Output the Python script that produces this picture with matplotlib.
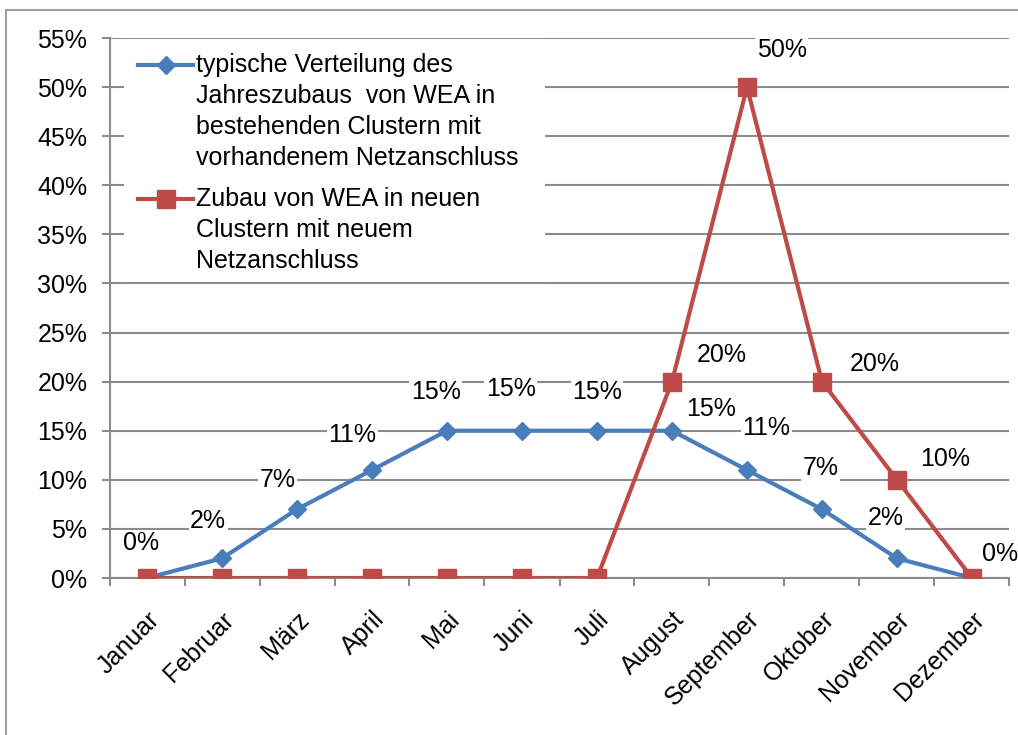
import matplotlib.pyplot as plt
from matplotlib.lines import Line2D
from matplotlib.patches import Rectangle
from matplotlib.ticker import FuncFormatter, MultipleLocator

plt.rcParams['font.family'] = ['Liberation Sans', 'DejaVu Sans']

months = ['Januar', 'Februar', 'März', 'April', 'Mai', 'Juni', 'Juli',
          'August', 'September', 'Oktober', 'November', 'Dezember']
bestand = [0, 2, 7, 11, 15, 15, 15, 15, 11, 7, 2, 0]
neu = [0, 0, 0, 0, 0, 0, 0, 20, 50, 20, 10, 0]

label_bestand = ['typische Verteilung des', 'Jahreszubaus  von WEA in',
                 'bestehenden Clustern mit', 'vorhandenem Netzanschluss']
label_neu = ['Zubau von WEA in neuen', 'Clustern mit neuem', 'Netzanschluss']

# label offsets (points) for data labels, as drawn in the original
off_bestand = [(-4, 25), (-10, 27), (-14, 21), (-14, 25), (-8, 28), (-8, 30),
               (0, 28), (28, 16), (14, 30), (-1, 30), (-8, 29), None]
off_neu = [None] * 7 + [(36, 19), (25, 27), (38, 13), (35, 15), (20, 17)]

blue = '#4a7ebb'
red = '#be4b48'
grid_c = '#8c8c8c'
fs = 18

W, H = 1018, 735
fig = plt.figure(figsize=(W / 100, H / 100), dpi=100)
ax = fig.add_axes([109.5 / W, 1 - 578 / H, 900 / W, 540 / H])

def fx(px):
    return px / W

def fy(py):
    return 1 - py / H

# outer chart frame
fig.patches.append(Rectangle((fx(6), -0.1), 1.1, fy(10.5) + 0.1,
                             transform=fig.transFigure, fill=False,
                             edgecolor='#a0a0a0', linewidth=1.5))

x = list(range(len(months)))
ax.plot(x, bestand, color=blue, linewidth=3, marker='D', markersize=9.5,
        zorder=3)
ax.plot(x, neu, color=red, linewidth=3, marker='s', markersize=12.5,
        zorder=4)

for xi, v, off in zip(x, bestand, off_bestand):
    if off is None:
        continue
    ax.annotate(f'{v}%', (xi, v), xytext=off, textcoords='offset points',
                ha='center', va='center', fontsize=fs, zorder=5,
                bbox=dict(facecolor='white', edgecolor='none', pad=1))
for xi, v, off in zip(x, neu, off_neu):
    if off is None:
        continue
    ax.annotate(f'{v}%', (xi, v), xytext=off, textcoords='offset points',
                ha='center', va='center', fontsize=fs, zorder=5,
                bbox=dict(facecolor='white', edgecolor='none', pad=1))

ax.set_xlim(-0.5, 11.5)
ax.set_ylim(0, 55)
ax.yaxis.set_major_locator(MultipleLocator(5))
ax.yaxis.set_major_formatter(FuncFormatter(lambda v, p: f'{v:.0f}%'))
ax.grid(axis='y', color=grid_c, linewidth=1.5)
ax.set_axisbelow(True)

ax.set_xticks([i - 0.5 for i in range(13)], minor=False)
ax.set_xticklabels([])
ax.set_xticks(x, minor=True)
ax.set_xticklabels(months, minor=True, rotation=45, ha='right',
                   rotation_mode='anchor', fontsize=fs)
ax.tick_params(axis='x', which='minor', length=0, pad=21)
ax.tick_params(axis='x', which='major', length=6, color=grid_c, width=1.5)
ax.tick_params(axis='y', length=6, color=grid_c, width=1.5, labelsize=fs,
               pad=10)

for s in ['top', 'right']:
    ax.spines[s].set_visible(False)
for s in ['left', 'bottom']:
    ax.spines[s].set_color(grid_c)
    ax.spines[s].set_linewidth(1.5)

# legend, drawn by hand so the markers sit on the first text line
fig.patches.append(Rectangle((fx(124), fy(282)), fx(545) - fx(124),
                             fy(39) - fy(282), transform=fig.transFigure,
                             facecolor='white', edgecolor='none', zorder=6))
entries = [(label_bestand, blue, 'D', 9.5, 65), (label_neu, red, 's', 12.5, 199)]
for lines, col, mk, ms, top in entries:
    fig.lines.append(Line2D([fx(138), fx(193)], [fy(top), fy(top)],
                            transform=fig.transFigure, color=col,
                            linewidth=3, zorder=7))
    fig.lines.append(Line2D([fx(165.5)], [fy(top)], transform=fig.transFigure,
                            color=col, marker=mk, markersize=ms, zorder=8))
    for k, line in enumerate(lines):
        fig.text(fx(196), fy(top + 31 * k), line, fontsize=fs, ha='left',
                 va='center', zorder=9)

fig.savefig('out.png', dpi=100)
